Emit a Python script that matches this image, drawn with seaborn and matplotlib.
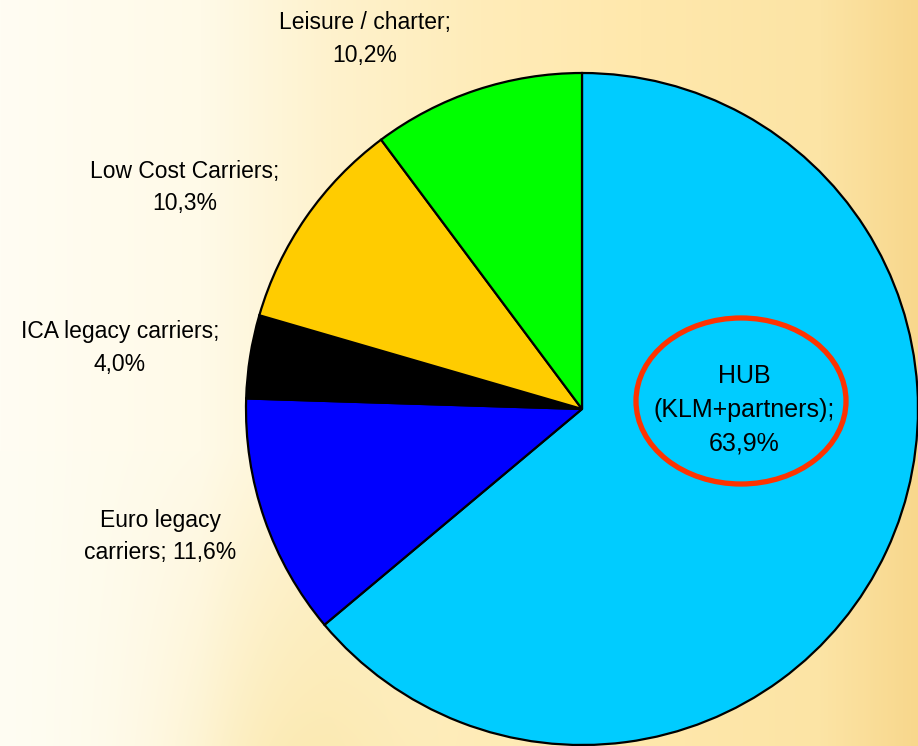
import numpy as np
import matplotlib
matplotlib.use("Agg")
import matplotlib.pyplot as plt
from matplotlib.patches import Ellipse
import seaborn as sns

# ---- data ----
categories = ["HUB\n(KLM+partners)", "Euro legacy\ncarriers", "ICA legacy carriers",
              "Low Cost Carriers", "Leisure / charter"]
shares = [63.9, 11.6, 4.0, 10.3, 10.2]
label_joins = [";\n", "; ", ";\n", ";\n", ";\n"]
colors = ["#00CCFF", "#0000FF", "#000000", "#FFCC00", "#00FF00"]

sns.set_theme(style="white")
plt.rcParams["font.family"] = ["Liberation Sans", "DejaVu Sans"]

W, H = 918, 746
fig = plt.figure(figsize=(W / 100, H / 100), dpi=100)

# ---- background gradient ----
bg_ax = fig.add_axes([0, 0, 1, 1])
bg_ax.set_axis_off()
xs = np.arange(W)
stops_x = [0, 200, 330, 480, 640, 820, 918]
stops_c = np.array([(255, 253, 243), (255, 250, 232), (254, 242, 205), (255, 236, 185),
                    (255, 232, 172), (252, 228, 165), (248, 215, 140)], float) / 255
row = np.stack([np.interp(xs, stops_x, stops_c[:, k]) for k in range(3)], axis=-1)
img = np.repeat(row[None, :, :], H, axis=0)
ys = np.arange(H)[:, None]
left_fade = np.clip((ys - 450) / 300, 0, 1) * np.exp(-((xs[None, :] - 300) / 120.0) ** 2)
yellow = np.array([250, 228, 160]) / 255
img = img * (1 - 0.6 * left_fade[..., None]) + yellow * 0.6 * left_fade[..., None]
bg_ax.imshow(img, extent=[0, W, H, 0], aspect="auto")
bg_ax.set_xlim(0, W)
bg_ax.set_ylim(H, 0)

# ---- pie ----
cx, cy, R = 582, 409, 336
ax = fig.add_axes([0, 0, 1, 1])
ax.patch.set_alpha(0)
ax.pie(shares, colors=colors, startangle=90, counterclock=False, radius=1,
       wedgeprops=dict(edgecolor="black", linewidth=1.6), frame=True)
ax.set_axis_off()
ax.set_aspect("auto")
ax.set_xlim(-cx / R, (W - cx) / R)
ax.set_ylim(-(H - cy) / R, cy / R)


def px(x, y):
    return (x - cx) / R, (cy - y) / R


def fmt(v):
    return f"{v:.1f}".replace(".", ",") + "%"


labels = [c + j + fmt(v) for c, j, v in zip(categories, label_joins, shares)]
# positions (pixel) for first line centre, line spacing, font size
label_pos = [(744, 376, 34, 18.0), (160, 520, 32, 16.5),
             (120, 332, 33, 16.5), (185, 172, 32, 16.5),
             (365, 23, 33, 16.5)]
for lab, (lx, ly, dy, fs) in zip(labels, label_pos):
    for i, line in enumerate(lab.split("\n")):
        tx, ty = px(lx, ly + i * dy)
        ax.text(tx, ty, line, ha="center", va="center", fontsize=fs, color="black")

# red ellipse around HUB label
ex, ey = px(741, 401)
ax.add_patch(Ellipse((ex, ey), 210 / R, 166 / R, fill=False, edgecolor="#FF3300", linewidth=3.8))

fig.savefig("out.png", dpi=100)
